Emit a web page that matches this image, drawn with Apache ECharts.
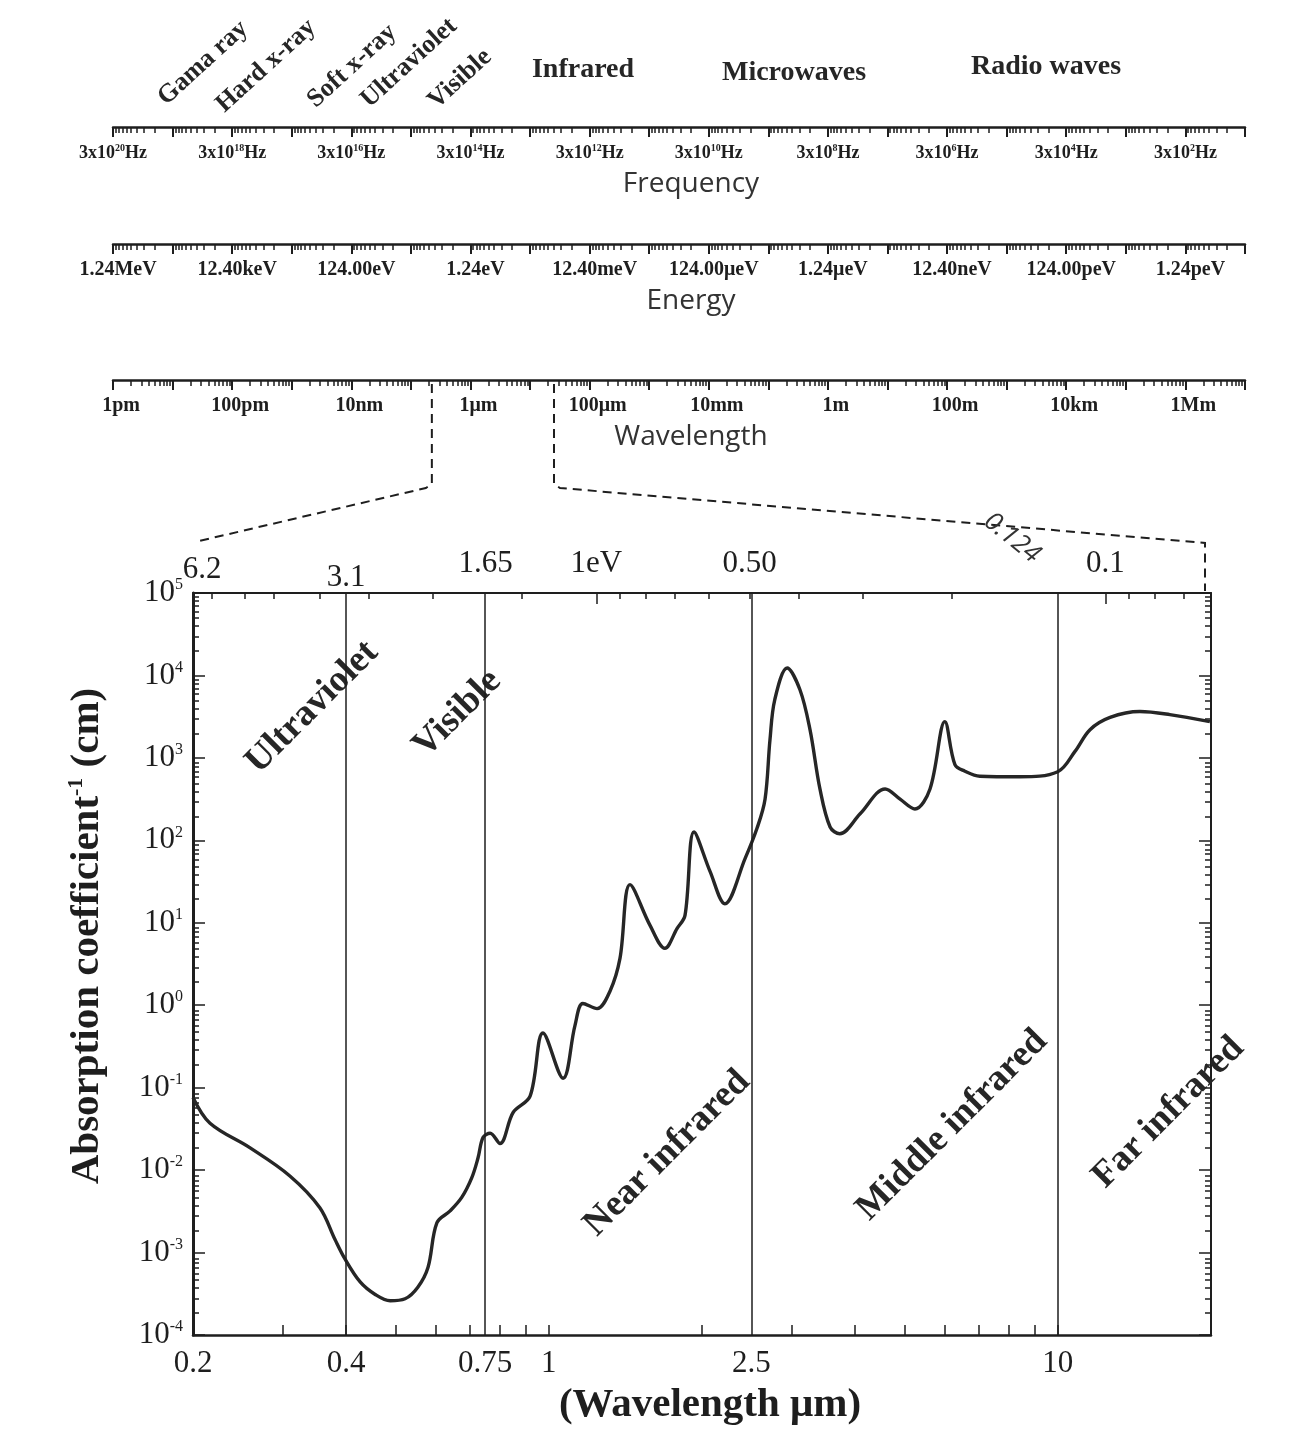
<!DOCTYPE html>
<html><head><meta charset="utf-8">
<script src="https://cdn.jsdelivr.net/npm/echarts@6/dist/echarts.min.js"></script>
<style>html,body{margin:0;padding:0;background:#fff}#c{width:1300px;height:1431px}</style>
</head><body><div id="c"></div>
<script>
// ---- main curve (wavelength in µm, absorption coefficient) ----
const wavelength = [0.2, 0.216, 0.259, 0.31, 0.355, 0.38, 0.398, 0.426, 0.456, 0.488, 0.522, 0.553, 0.579, 0.603, 0.64, 0.675, 0.706, 0.726, 0.743, 0.767, 0.802, 0.851, 0.919, 0.974, 1.067, 1.126, 1.167, 1.244, 1.319, 1.38, 1.444, 1.581, 1.691, 1.786, 1.852, 1.929, 2.074, 2.218, 2.43, 2.565, 2.66, 2.72, 2.78, 2.94, 3.115, 3.26, 3.41, 3.57, 3.73, 4.09, 4.58, 4.9, 5.24, 5.61, 6.0, 6.28, 6.57, 7.03, 8.43, 10, 10.81, 11.57, 12.67, 14.5, 16.6, 19.9];
const absorption = [0.076, 0.037, 0.0186, 0.0085, 0.0035, 0.00145, 0.00083, 0.00044, 0.00031, 0.00026, 0.000275, 0.00038, 0.00066, 0.0023, 0.0032, 0.0047, 0.0081, 0.014, 0.025, 0.028, 0.021, 0.05, 0.079, 0.46, 0.13, 0.57, 1.05, 0.91, 1.48, 3.7, 29, 9.3, 4.9, 8.5, 12.3, 126, 42, 17, 60, 140, 316, 1650, 5100, 12300, 6700, 2200, 420, 145, 120, 210, 420, 316, 240, 420, 2750, 830, 690, 600, 590, 680, 1200, 2200, 3100, 3650, 3350, 2750];

// ---- main plot axes ----
const xTickLabels = [0.2, 0.4, 0.75, 1, 2.5, 10];
const xTicks = [0.3, 0.4, 0.5, 0.6, 0.7, 0.8, 0.9, 1, 2, 3, 4, 5, 6, 7, 8, 9, 10];
const energyLabels = [6.2, 3.1, 1.65, 1, 0.5, 0.1];
const energyLabelText = ['6.2', '3.1', '1.65', '1eV', '0.50', '0.1'];
const energyMajorTicks = [1, 0.1];
const energyMinorTicks = [5.7, 4.9, 4.3, 3.5, 2.8, 2.1, 1.4, 0.9, 0.8, 0.7, 0.6, 0.5, 0.4, 0.3, 0.2, 0.09, 0.08, 0.07];
const yTickLabels = [1e-4, 1e-3, 1e-2, 1e-1, 1, 1e1, 1e2, 1e3, 1e4, 1e5];
const regionLines = [0.4, 0.75, 2.5, 10];
const bandNames = ['Ultraviolet', 'Visible', 'Near infrared', 'Middle infrared', 'Far infrared'];
const bandWavelength = [0.343, 0.661, 1.708, 6.2, 16.5];
const bandLevel = [4100, 3450, 0.016, 0.035, 0.05];

// ---- spectrum rulers ----
const freqTickValues = [3e20, 3e18, 3e16, 3e14, 3e12, 3e10, 3e8, 3e6, 3e4, 3e2];
const freqTickLabels = ['3x10^20Hz', '3x10^18Hz', '3x10^16Hz', '3x10^14Hz', '3x10^12Hz', '3x10^10Hz', '3x10^8Hz', '3x10^6Hz', '3x10^4Hz', '3x10^2Hz'];
const energyTickValues = [1.24e6, 1.24e4, 1.24e2, 1.24, 1.24e-2, 1.24e-4, 1.24e-6, 1.24e-8, 1.24e-10, 1.24e-12];
const energyTickLabels = ['1.24MeV', '12.40keV', '124.00eV', '1.24eV', '12.40meV', '124.00μeV', '1.24μeV', '12.40neV', '124.00peV', '1.24peV'];
const waveTickValues = [1e-12, 1e-10, 1e-8, 1e-6, 1e-4, 1e-2, 1, 1e2, 1e4, 1e6];
const waveTickLabels = ['1pm', '100pm', '10nm', '1μm', '100μm', '10mm', '1m', '100m', '10km', '1Mm'];
const spectrumNames = ['Gama ray', 'Hard x-ray', 'Soft x-ray', 'Ultraviolet', 'Visible', 'Infrared', 'Microwaves', 'Radio waves'];

const SERIF = "'Liberation Serif','Times New Roman',serif";
const SANS = "'Open Sans','Noto Sans',sans-serif";
const INK = '#1e1e1e';

function decades(base, k0, k1) { const o = []; for (let k = k0; k <= k1; k++) o.push(base * Math.pow(10, k)); return o; }
function minors(base, k0, k1) { const o = []; for (let k = k0; k <= k1; k++) for (let m = 2; m <= 9; m++) o.push(m * base * Math.pow(10, k)); return o; }
function nearestIndex(vals, v) {
  let best = 0, bd = Infinity;
  vals.forEach((x, i) => { const d = Math.abs(Math.log10(x / v)); if (d < bd) { bd = d; best = i; } });
  return best;
}
function supRich(s) {
  const m = s.match(/^(.*?)\^(\d+)(.*)$/);
  if (!m) return '{b|' + s + '}';
  return '{b|' + m[1] + '}{s|' + m[2] + '}{b|' + m[3] + '}';
}

const chart = echarts.init(document.getElementById('c'));

const rulerDefs = [
  { y: 127, min: 3e1, max: 3e20, inverse: true, major: decades(3, 1, 20), minor: minors(3, 1, 19), vals: freqTickValues, labels: freqTickLabels, name: 'Frequency', pad: 0, rich: true, fs: 18 },
  { y: 244, min: 1.24e-13, max: 1.24e6, inverse: true, major: decades(1.24, -13, 6), minor: minors(1.24, -13, 5), vals: energyTickValues, labels: energyTickLabels, name: 'Energy', pad: 10, fs: 20 },
  { y: 380, min: 1e-12, max: 1e7, inverse: false, major: decades(1, -12, 7), minor: minors(1, -12, 6), vals: waveTickValues, labels: waveTickLabels, name: 'Wavelength', pad: 16, fs: 20 }
];

const grids = [
  { left: 193, top: 593, width: 1018, height: 745 },
  { left: 193, top: 593, width: 1018, height: 745 }
];
const xAxes = [
  { type: 'log', gridIndex: 0, position: 'bottom', min: 0.2, max: 20,
    axisLine: { show: true, lineStyle: { color: INK, width: 2.5 } },
    axisTick: { show: true, inside: true, length: 10, customValues: xTicks, lineStyle: { color: INK, width: 1.5 } },
    axisLabel: { customValues: xTickLabels, margin: 13, color: INK, fontFamily: SERIF, fontSize: 31,
      formatter: v => String(xTickLabels[nearestIndex(xTickLabels, v)]) },
    splitLine: { show: false }, minorTick: { show: false },
    name: '(Wavelength μm)', nameLocation: 'middle', nameGap: 50,
    nameTextStyle: { color: INK, fontFamily: SERIF, fontWeight: 'bold', fontSize: 41, padding: [0, 0, 0, 16] } },
  { type: 'log', gridIndex: 0, position: 'top', inverse: true, min: 0.062, max: 6.2,
    axisLine: { show: true, lineStyle: { color: INK, width: 2 } },
    axisTick: { show: true, inside: true, length: 11, customValues: energyMajorTicks, lineStyle: { color: INK, width: 1.5 } },
    axisLabel: { customValues: energyLabels, margin: 0, color: INK, fontFamily: SERIF, fontSize: 31,
      formatter: v => { const i = nearestIndex(energyLabels, v); const t = energyLabelText[i]; return i === 1 ? '{lo|' + t + '}' : (i === 0 ? '{a|' + t + '}' : '{n|' + t + '}'); },
      rich: { n: { fontFamily: SERIF, fontSize: 31, color: INK, padding: [0, 0, 14, 0] }, a: { fontFamily: SERIF, fontSize: 31, color: INK, padding: [0, 0, 8, 18] }, lo: { fontFamily: SERIF, fontSize: 31, color: INK } } },
    splitLine: { show: false } },
  { type: 'log', gridIndex: 1, position: 'top', inverse: true, min: 0.062, max: 6.2,
    axisLine: { show: false }, axisLabel: { show: false }, splitLine: { show: false },
    axisTick: { show: true, inside: true, length: 6, customValues: energyMinorTicks, lineStyle: { color: INK, width: 1.5 } } }
];
const yAxes = [
  { type: 'log', gridIndex: 0, position: 'left', min: 1e-4, max: 1e5,
    axisLine: { show: true, lineStyle: { color: INK, width: 3 } },
    axisTick: { show: true, inside: true, length: 12, customValues: yTickLabels, lineStyle: { color: INK, width: 1.5 } },
    axisLabel: { customValues: yTickLabels, margin: 10, color: INK,
      formatter: v => '{b|10}{s|' + Math.round(Math.log10(v)) + '}',
      rich: { b: { fontFamily: SERIF, fontSize: 31, color: INK, lineHeight: 32 }, s: { fontFamily: SERIF, fontSize: 16, color: INK, verticalAlign: 'top', lineHeight: 19 } } },
    splitLine: { show: false },
    name: '{n|Absorption coefficient}{s|-1}{n| (cm)}', nameLocation: 'middle', nameGap: 84,
    nameTextStyle: { padding: [0, 0, 0, 56], rich: { n: { fontFamily: SERIF, fontWeight: 'bold', fontSize: 41, color: INK, lineHeight: 44 }, s: { fontFamily: SERIF, fontWeight: 'bold', fontSize: 22, color: INK, verticalAlign: 'top', lineHeight: 24 } } } },
  { type: 'log', gridIndex: 0, position: 'right', min: 1e-4, max: 1e5,
    axisLine: { show: true, lineStyle: { color: INK, width: 2 } },
    axisTick: { show: true, inside: true, length: 12, customValues: yTickLabels, lineStyle: { color: INK, width: 1.5 } },
    axisLabel: { show: false }, splitLine: { show: false } },
  { type: 'log', gridIndex: 1, position: 'left', min: 1e-4, max: 1e5,
    axisLine: { show: false }, axisLabel: { show: false }, splitLine: { show: false },
    axisTick: { show: true, inside: true, length: 6, customValues: minors(1, -4, 4), lineStyle: { color: INK, width: 1.5 } } },
  { type: 'log', gridIndex: 1, position: 'right', min: 1e-4, max: 1e5,
    axisLine: { show: false }, axisLabel: { show: false }, splitLine: { show: false },
    axisTick: { show: true, inside: true, length: 6, customValues: minors(1, -4, 4), lineStyle: { color: INK, width: 1.5 } } }
];

rulerDefs.forEach(r => {
  const gMajor = grids.length;
  const lo = r.min * 0.998, hi = r.max * 1.002;
  grids.push({ left: 113, width: 1132, top: r.y - 20, height: 20 });
  grids.push({ left: 113, width: 1132, top: r.y - 20, height: 20 });
  r.axisIndex = xAxes.length;
  xAxes.push({ type: 'log', gridIndex: gMajor, position: 'bottom', min: lo, max: hi, inverse: r.inverse,
    axisLine: { show: true, lineStyle: { color: INK, width: 2.5 } },
    axisTick: { show: true, inside: false, length: 10, customValues: r.major, lineStyle: { color: INK, width: 2 } },
    axisLabel: { customValues: r.vals, margin: 16, color: INK, fontFamily: SERIF, fontWeight: 'bold', fontSize: r.fs,
      padding: [0, 0, 0, r.pad],
      formatter: v => { const t = r.labels[nearestIndex(r.vals, v)]; return r.rich ? supRich(t) : t; },
      rich: { b: { fontFamily: SERIF, fontWeight: 'bold', fontSize: r.fs, color: INK, lineHeight: 20 }, s: { fontFamily: SERIF, fontWeight: 'bold', fontSize: 10, color: INK, verticalAlign: 'top', lineHeight: 12 } } },
    splitLine: { show: false },
    name: r.name, nameLocation: 'middle', nameGap: 43,
    nameTextStyle: { fontFamily: SANS, fontSize: 28, color: '#333', padding: [0, 0, 0, 24] } });
  xAxes.push({ type: 'log', gridIndex: gMajor + 1, position: 'bottom', min: lo, max: hi, inverse: r.inverse,
    axisLine: { show: false }, axisLabel: { show: false }, splitLine: { show: false },
    axisTick: { show: true, inside: false, length: 6, customValues: r.minor, lineStyle: { color: INK, width: 1.5 } } });
  yAxes.push({ type: 'value', gridIndex: gMajor, show: false });
  yAxes.push({ type: 'value', gridIndex: gMajor + 1, show: false });
});

const option = {
  backgroundColor: '#fff',
  animation: false,
  grid: grids,
  xAxis: xAxes,
  yAxis: yAxes,
  series: [
    { type: 'line', xAxisIndex: 0, yAxisIndex: 0, data: wavelength.map((w, i) => [w, absorption[i]]),
      smooth: 0.35, showSymbol: false, symbol: 'none',
      lineStyle: { color: '#262626', width: 3.4 },
      markLine: { silent: true, symbol: 'none', label: { show: false },
        lineStyle: { color: INK, width: 1.5, type: 'solid' },
        data: regionLines.map(v => ({ xAxis: v })) } },
    { type: 'scatter', xAxisIndex: 0, yAxisIndex: 0, symbolSize: 1, itemStyle: { color: 'rgba(0,0,0,0)', opacity: 1 },
      data: bandWavelength.map((w, i) => [w, bandLevel[i]]),
      label: { show: true, position: 'inside', rotate: 45, opacity: 1, formatter: p => bandNames[p.dataIndex],
        fontFamily: SERIF, fontWeight: 'bold', fontSize: 37, color: '#262626' } }
  ]
};
chart.setOption(option);

// ---- annotations anchored on the axes ----
const waveAxis = rulerDefs[2].axisIndex;
const rx0 = chart.convertToPixel({ xAxisIndex: waveAxis }, 2e-7);
const rx1 = chart.convertToPixel({ xAxisIndex: waveAxis }, 2e-5);
const mx0 = chart.convertToPixel({ xAxisIndex: 0 }, 0.2);
const mx1 = chart.convertToPixel({ xAxisIndex: 0 }, 20);
const myTop = chart.convertToPixel({ yAxisIndex: 0 }, 1e5);
const dash = { stroke: INK, lineWidth: 2, lineDash: [9, 6], fill: null };
const spec = [
  [203, 63, 0.74, 26], [266, 66, 0.74, 26], [352, 66, 0.74, 26], [409, 63, 0.74, 26], [460, 79, 0.74, 26],
  [583, 70, 0, 28], [794, 73, 0, 28], [1046, 67, 0, 28]
];
const graphics = spectrumNames.map((t, i) => ({
  type: 'text', x: spec[i][0], y: spec[i][1], rotation: spec[i][2],
  style: { text: t, fontFamily: SERIF, fontWeight: 'bold', fontSize: spec[i][3], fill: '#262626', align: 'center', verticalAlign: 'middle' }
}));
graphics.push({ type: 'polyline', shape: { points: [[rx0 + 3, 384], [rx0 + 3, 484], [rx0 - 3, 488], [mx0 + 6, 541]] }, style: dash });
graphics.push({ type: 'polyline', shape: { points: [[rx1 + 6, 384], [rx1 + 6, 484], [rx1 + 12, 488], [mx1 - 6, 543], [mx1 - 6, myTop - 2]] }, style: dash });
graphics.push({ type: 'text', x: 1012, y: 538, rotation: -0.68,
  style: { text: '0.124', fontFamily: SANS, fontStyle: 'italic', fontSize: 26, fill: '#333', align: 'center', verticalAlign: 'middle' } });
chart.setOption({ graphic: graphics });
</script></body></html>
